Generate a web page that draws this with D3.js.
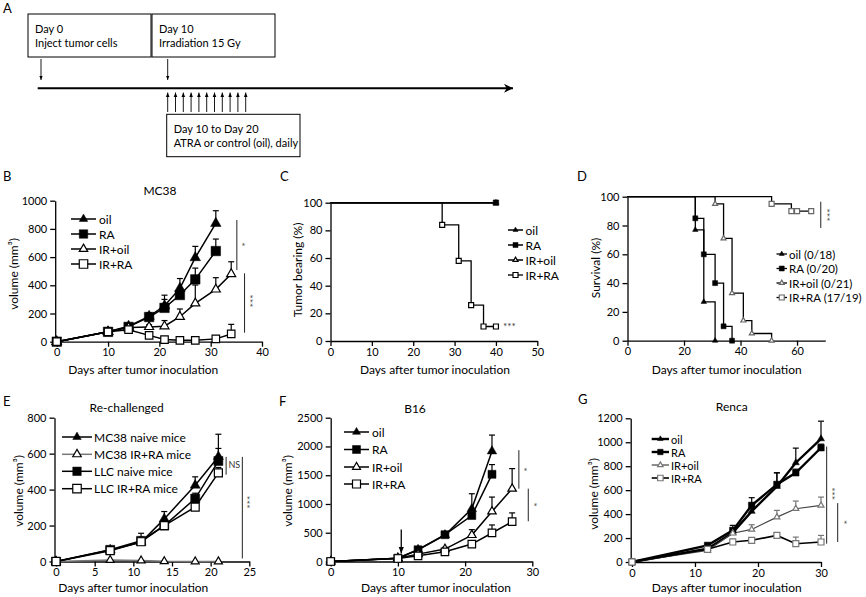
<!DOCTYPE html>
<html lang="en">
<head>
<meta charset="UTF-8">
<title>ATRA + irradiation tumor studies</title>
<script src="https://d3js.org/d3.v7.min.js"></script>
<style>
    body { margin: 0; padding: 0; background: #fff; overflow: hidden; }
    svg text { font-family: Lato, "Open Sans", sans-serif; fill: #000; }
    .axis path, .axis line { stroke: #000; stroke-width: 1.3; }
    .axis text { font-size: 11px; }
</style>
</head>
<body>
<svg id="fig" width="866" height="597"></svg>
<script>
// ---- Panel A: schedule ----
const schedDays = [0, 10];
const dailyDoses = [10, 11, 12, 13, 14, 15, 16, 17, 18, 19, 20];

// ---- Panel B: MC38 tumor volume (mm3) ----
const daysB = [0, 10, 14, 18, 21, 24, 27, 31];
const daysB_IR = [0, 10, 14, 18, 21, 24, 27, 31, 34];
const oilB = [0, 70, 110, 180, 255, 378, 596, 839];
const oilB_err = [0, 8, 15, 25, 75, 70, 80, 90];
const raB = [0, 70, 105, 175, 240, 331, 442, 643];
const raB_err = [0, 8, 15, 20, 60, 50, 80, 85];
const irOilB = [0, 70, 100, 105, 110, 177, 272, 371, 480];
const irOilB_err = [0, 8, 12, 15, 40, 55, 130, 83, 87];
const irRaB = [0, 70, 85, 45, 15, 10, 10, 20, 55];
const irRaB_err = [0, 8, 10, 10, 8, 5, 5, 15, 68];

// ---- Panel C: tumor bearing (%) ----
const daysC_ctrl = [0, 40];
const ctrlC = [100, 100];
const daysC_IRRA = [0, 27, 31, 34, 37, 40];
const irRaC = [100, 84, 58, 26, 10.5, 10.5];

// ---- Panel D: survival (%) ----
const daysD_oil = [0, 24, 27, 31];
const oilD = [100, 77, 27, 0];
const daysD_RA = [0, 24, 27, 31, 34, 37];
const raD = [100, 85, 60, 40, 10, 0];
const daysD_IRoil = [0, 31, 34, 37, 41, 44, 51];
const irOilD = [100, 95, 71, 33, 14, 5, 0];
const daysD_IRRA = [0, 51, 58, 60, 65];
const irRaD = [100, 95, 90, 90, 90];

// ---- Panel E: re-challenge (mm3) ----
const daysE = [0, 7, 11, 14, 18, 21];
const mc38NaiveE = [0, 64, 107, 237, 424, 583];
const mc38NaiveE_err = [0, 10, 50, 41, 47, 125];
const mc38IrRaE = [0, 8, 5, 1, 0, 0];
const llcNaiveE = [0, 65, 115, 200, 350, 559];
const llcNaiveE_err = [0, 10, 20, 20, 30, 70];
const llcIrRaE = [0, 60, 110, 200, 303, 493];
const llcIrRaE_err = [0, 5, 10, 15, 20, 30];

// ---- Panel F: B16 (mm3) ----
const daysF = [0, 10, 13, 17, 21, 24];
const daysF_IR = [0, 10, 13, 17, 21, 24, 27];
const oilF = [0, 58, 204, 460, 915, 1918];
const oilF_err = [0, 10, 30, 60, 263, 280];
const raF = [0, 58, 204, 466, 799, 1516];
const raF_err = [0, 10, 30, 50, 90, 169];
const irOilF = [0, 58, 128, 216, 460, 869, 1265];
const irOilF_err = [0, 10, 20, 30, 94, 251, 350];
const irRaF = [0, 52, 99, 169, 303, 496, 694];
const irRaF_err = [0, 8, 15, 20, 40, 139, 151];

// ---- Panel G: Renca (mm3) ----
const daysG = [0, 12, 16, 19, 23, 26, 30];
const oilG = [0, 111, 245, 423, 631, 829, 1029];
const oilG_err = [0, 10, 30, 60, 114, 122, 147];
const raG = [0, 139, 264, 473, 648, 745, 954];
const raG_err = [0, 10, 42, 64, 97, 30, 30];
const irOilG = [0, 97, 240, 272, 375, 445, 473];
const irOilG_err = [0, 10, 20, 39, 56, 64, 69];
const irRaG = [0, 106, 167, 181, 222, 153, 167];
const irRaG_err = [0, 8, 25, 20, 15, 55, 55];

const svg = d3.select("#fig");

function sym(shape, size) {
    const t = shape === "tri" ? d3.symbolTriangle : d3.symbolSquare;
    const area = shape === "tri" ? Math.sqrt(3) / 4 * size * size : size * size;
    return d3.symbol().type(t).size(area)();
}

function series(name, days, vals, errs, shape, filled, opts = {}) {
    return Object.assign({ name, days, vals, errs, shape, filled,
        size: 8, lw: 1.5, line: "#000", mark: "#000", step: false, showFrom: 0 }, opts);
}

function drawPanel(p) {
    const g = svg.append("g");
    const x = d3.scaleLinear().domain(p.xDomain).range(p.xRange);
    const y = d3.scaleLinear().domain(p.yDomain).range(p.yRange);

    // axes
    const xa = g.append("g").attr("class", "axis")
        .attr("transform", `translate(0,${y(0)})`)
        .call(d3.axisBottom(x).tickValues(p.xTicks).tickFormat(d3.format("d"))
            .tickSize(5).tickSizeOuter(0).tickPadding(2));
    const ya = g.append("g").attr("class", "axis")
        .attr("transform", `translate(${p.xRange[0]},0)`)
        .call(d3.axisLeft(y).tickValues(p.yTicks).tickFormat(d3.format("d"))
            .tickSize(5).tickSizeOuter(0).tickPadding(3));
    [xa, ya].forEach(a => a.attr("font-family", null).attr("font-size", null));

    // title & labels
    if (p.title) g.append("text").attr("x", p.title[1]).attr("y", p.title[2])
        .attr("text-anchor", "middle").style("font-size", "12px").text(p.title[0]);
    g.append("text").attr("x", p.xLab[0]).attr("y", p.xLab[1]).attr("text-anchor", "middle")
        .style("font-size", "12px").text("Days after tumor inoculation");
    g.append("text").attr("transform", `translate(${p.yLab[1]},${p.yLab[2]}) rotate(-90)`)
        .attr("text-anchor", "middle").attr("dominant-baseline", "central")
        .style("font-size", "12px").text(p.yLab[0]);
    g.append("text").attr("x", p.letter[1]).attr("y", p.letter[2])
        .style("font-size", "13px").text(p.letter[0]);

    // lines
    p.series.forEach(s => {
        const pts = s.days.map((d, i) => [d, s.vals[i]]);
        const ln = d3.line().x(d => x(d[0])).y(d => y(d[1]));
        if (s.step) ln.curve(d3.curveStepAfter);
        g.append("path").attr("d", ln(pts)).attr("fill", "none")
            .attr("stroke", s.line).attr("stroke-width", s.lw);
    });
    // error bars (upper only)
    p.series.forEach(s => {
        if (!s.errs) return;
        s.days.forEach((d, i) => {
            if (!s.errs[i]) return;
            const top = y(s.vals[i] + s.errs[i]);
            g.append("line").attr("x1", x(d)).attr("x2", x(d))
                .attr("y1", y(s.vals[i])).attr("y2", top)
                .attr("stroke", s.mark).attr("stroke-width", 1.2);
            g.append("line").attr("x1", x(d) - 3).attr("x2", x(d) + 3)
                .attr("y1", top).attr("y2", top)
                .attr("stroke", s.mark).attr("stroke-width", 1.2);
        });
    });
    // markers
    p.series.forEach(s => {
        s.days.forEach((d, i) => {
            if (i < s.showFrom) return;
            g.append("path").attr("d", sym(s.shape, s.size))
                .attr("transform", `translate(${x(d)},${y(s.vals[i])})`)
                .attr("fill", s.filled ? s.mark : "#fff")
                .attr("stroke", s.mark).attr("stroke-width", s.filled ? 0.5 : 1.2);
        });
    });

    // legend
    const L = p.legend;
    p.series.forEach((s, i) => {
        const yy = L.ys[i];
        g.append("line").attr("x1", L.x0).attr("x2", L.x1).attr("y1", yy).attr("y2", yy)
            .attr("stroke", s.line).attr("stroke-width", s.lw);
        g.append("path").attr("d", sym(s.shape, L.size))
            .attr("transform", `translate(${(L.x0 + L.x1) / 2},${yy})`)
            .attr("fill", s.filled ? s.mark : "#fff")
            .attr("stroke", s.mark).attr("stroke-width", s.filled ? 0.5 : 1.2);
        g.append("text").attr("x", L.tx).attr("y", yy).attr("dominant-baseline", "central")
            .style("font-size", L.fs + "px").text(L.labels[i]);
    });

    // significance brackets, in data coordinates
    (p.sig || []).forEach(a => {
        if (a.y1 !== undefined) g.append("line").attr("x1", x(a.x)).attr("x2", x(a.x))
            .attr("y1", y(a.y1)).attr("y2", y(a.y2)).attr("stroke", "#222").attr("stroke-width", 1);
        const t = g.append("text").style("font-size", (a.fs || 10) + "px").style("fill", "#333")
            .attr("dominant-baseline", "central")
            .text(a.label);
        if (a.rot) t.attr("text-anchor", "middle")
            .attr("transform", `translate(${x(a.tx)},${y(a.ty)}) rotate(90)`);
        else t.attr("x", x(a.tx)).attr("y", y(a.ty));
    });
    return { x, y, g };
}

const grpLabels = ["oil", "RA", "IR+oil", "IR+RA"];

// ---- Panel A ----
(function () {
    const g = svg.append("g");
    g.append("text").attr("x", 3).attr("y", 13).style("font-size", "13px").text("A");
    const t = d3.scaleLinear().domain([0, 10]).range([41, 167.7]);
    const td = d3.scaleLinear().domain([10, 20]).range([167.7, 245.7]);
    const boxes = [
        { x: 28, y: 14, w: 123, h: 43, lines: ["Day 0", "Inject tumor cells"] },
        { x: 152, y: 14, w: 123, h: 43, lines: ["Day 10", "Irradiation 15 Gy"] },
        { x: 166.7, y: 114.3, w: 133.3, h: 42.4, lines: ["Day 10 to Day 20", "ATRA or control (oil), daily"] }
    ];
    boxes.forEach(b => {
        g.append("rect").attr("x", b.x).attr("y", b.y).attr("width", b.w).attr("height", b.h)
            .attr("fill", "#fff").attr("stroke", "#000").attr("stroke-width", 1);
        b.lines.forEach((l, i) => g.append("text").attr("x", b.x + 7).attr("y", b.y + 19 + i * 13.5)
            .style("font-size", "11px").text(l));
    });
    const defs = svg.append("defs");
    defs.append("marker").attr("id", "ah").attr("viewBox", "0 0 10 10").attr("refX", 10).attr("refY", 5)
        .attr("markerWidth", 5).attr("markerHeight", 5).attr("orient", "auto-start-reverse")
        .append("path").attr("d", "M0,1L10,5L0,9z").attr("fill", "#000");
    defs.append("marker").attr("id", "big").attr("viewBox", "0 0 10 10").attr("refX", 10).attr("refY", 5)
        .attr("markerWidth", 4.5).attr("markerHeight", 4.5).attr("orient", "auto")
        .append("path").attr("d", "M0,0L10,5L0,10L3,5z").attr("fill", "#000");
    schedDays.forEach(d => g.append("line").attr("x1", t(d)).attr("x2", t(d)).attr("y1", 59).attr("y2", 80)
        .attr("stroke", "#000").attr("stroke-width", 0.9).attr("marker-end", "url(#ah)"));
    g.append("line").attr("x1", 37.7).attr("x2", 513).attr("y1", 88.3).attr("y2", 88.3)
        .attr("stroke", "#000").attr("stroke-width", 2).attr("marker-end", "url(#big)");
    dailyDoses.forEach(d => g.append("line").attr("x1", td(d)).attr("x2", td(d)).attr("y1", 112).attr("y2", 92.5)
        .attr("stroke", "#000").attr("stroke-width", 0.9).attr("marker-end", "url(#ah)"));
})();

// ---- Panel B ----
drawPanel({
    xDomain: [-0.3, 40], xRange: [55.2, 262], yDomain: [0, 1000], yRange: [341.7, 200.7],
    xTicks: [0, 10, 20, 30, 40], yTicks: [0, 200, 400, 600, 800, 1000],
    title: ["MC38", 160, 195], xLab: [143.3, 374], yLab: ["volume (mm³)", 13, 274], letter: ["B", 3, 181],
    series: [
        series("oil", daysB, oilB, oilB_err, "tri", true, { size: 10.5 }),
        series("RA", daysB, raB, raB_err, "sq", true, { size: 9.5 }),
        series("IR+oil", daysB_IR, irOilB, irOilB_err, "tri", false, { size: 9 }),
        series("IR+RA", daysB_IR, irRaB, irRaB_err, "sq", false, { size: 7.5 })
    ],
    legend: { x0: 71, x1: 96, tx: 99, ys: [219, 234, 249, 264], size: 8.5, fs: 12, labels: grpLabels },
    sig: [
        { x: 35.1, y1: 863, y2: 508, label: "*", tx: 36.1, ty: 690, rot: true },
        { x: 36.6, y1: 485, y2: 64, label: "***", tx: 37.6, ty: 290, rot: true }
    ]
});

// ---- Panel C ----
drawPanel({
    xDomain: [0, 50], xRange: [330.5, 537.3], yDomain: [0, 100], yRange: [341, 202.7],
    xTicks: [0, 10, 20, 30, 40, 50], yTicks: [0, 20, 40, 60, 80, 100],
    xLab: [435, 374], yLab: ["Tumor bearing (%)", 297, 270], letter: ["C", 280, 181],
    series: [
        series("oil", daysC_ctrl, ctrlC, null, "tri", true, { size: 6, showFrom: 1 }),
        series("RA", daysC_ctrl, ctrlC, null, "sq", true, { size: 5.5, showFrom: 1 }),
        series("IR+oil", daysC_ctrl, ctrlC, null, "tri", false, { size: 5, showFrom: 2 }),
        series("IR+RA", daysC_IRRA, irRaC, null, "sq", false, { size: 5, step: true, showFrom: 1, lw: 1.3 })
    ],
    legend: { x0: 508, x1: 523, tx: 525.5, ys: [230, 245, 260, 275], size: 5, fs: 12, labels: grpLabels },
    sig: [{ label: "***", tx: 41.7, ty: 10.5, fs: 10 }]
});

// ---- Panel D ----
drawPanel({
    xDomain: [0, 70], xRange: [627.5, 825.3], yDomain: [0, 100], yRange: [340.7, 196.7],
    xTicks: [0, 20, 40, 60], yTicks: [0, 20, 40, 60, 80, 100],
    xLab: [726.7, 374], yLab: ["Survival (%)", 595, 268], letter: ["D", 577, 181],
    series: [
        series("oil", daysD_oil, oilD, null, "tri", true, { size: 5.5, step: true, showFrom: 1, lw: 1.3 }),
        series("RA", daysD_RA, raD, null, "sq", true, { size: 5, step: true, showFrom: 1, lw: 1.3 }),
        series("IR+oil", daysD_IRoil, irOilD, null, "tri", false, { size: 5, step: true, showFrom: 1, lw: 1.3, mark: "#666" }),
        series("IR+RA", daysD_IRRA, irRaD, null, "sq", false, { size: 5, step: true, showFrom: 1, lw: 1.3, mark: "#666" })
    ],
    legend: { x0: 776.5, x1: 787, tx: 789, ys: [254, 268.5, 283, 297.5], size: 5, fs: 11.5,
        labels: ["oil (0/18)", "RA (0/20)", "IR+oil (0/21)", "IR+RA (17/19)"] },
    sig: [{ x: 68.4, y1: 96.5, y2: 78.3, label: "***", tx: 70.5, ty: 87.4, rot: true }]
});

// ---- Panel E ----
drawPanel({
    xDomain: [-0.2, 25], xRange: [54.5, 249.3], yDomain: [0, 800], yRange: [561.5, 417.7],
    xTicks: [0, 5, 10, 15, 20, 25], yTicks: [0, 200, 400, 600, 800],
    title: ["Re-challenged", 126.7, 412], xLab: [133.3, 592], yLab: ["volume (mm³)", 18, 491], letter: ["E", 3, 406],
    series: [
        series("MC38 naive", daysE, mc38NaiveE, mc38NaiveE_err, "tri", true, { size: 10 }),
        series("MC38 IR+RA", daysE, mc38IrRaE, null, "tri", false, { size: 8, line: "#777" }),
        series("LLC naive", daysE, llcNaiveE, llcNaiveE_err, "sq", true, { size: 9 }),
        series("LLC IR+RA", daysE, llcIrRaE, llcIrRaE_err, "sq", false, { size: 8 })
    ],
    legend: { x0: 62, x1: 92, tx: 94, ys: [437, 454.3, 471.3, 488.7], size: 8.5, fs: 12,
        labels: ["MC38 naive mice", "MC38 IR+RA mice", "LLC naive mice", "LLC IR+RA mice"] },
    sig: [
        { x: 22, y1: 582, y2: 483, label: "NS", tx: 22.3, ty: 540, fs: 9 },
        { x: 24.1, y1: 582, y2: 17, label: "***", tx: 24.7, ty: 330, rot: true }
    ]
});

// ---- Panel F ----
const pF = drawPanel({
    xDomain: [0, 30], xRange: [330.7, 532.3], yDomain: [0, 2500], yRange: [561.5, 417.7],
    xTicks: [0, 10, 20, 30], yTicks: [0, 500, 1000, 1500, 2000, 2500],
    title: ["B16", 415, 413], xLab: [436, 592], yLab: ["volume (mm³)", 287, 491], letter: ["F", 279, 406],
    series: [
        series("oil", daysF, oilF, oilF_err, "tri", true, { size: 9.5 }),
        series("RA", daysF, raF, raF_err, "sq", true, { size: 8 }),
        series("IR+oil", daysF_IR, irOilF, irOilF_err, "tri", false, { size: 8.5 }),
        series("IR+RA", daysF_IR, irRaF, irRaF_err, "sq", false, { size: 7.5 })
    ],
    legend: { x0: 344, x1: 369, tx: 372, ys: [432, 449.5, 467, 484], size: 8, fs: 12, labels: grpLabels },
    sig: [
        { x: 28.0, y1: 1935, y2: 1266, label: "*", tx: 28.8, ty: 1600, rot: true },
        { x: 29.4, y1: 1266, y2: 699, label: "*", tx: 30.2, ty: 990, rot: true }
    ]
});
// irradiation arrow at day 10
pF.g.append("line").attr("x1", pF.x(10.5)).attr("x2", pF.x(10.5)).attr("y1", pF.y(555)).attr("y2", pF.y(140))
    .attr("stroke", "#000").attr("stroke-width", 1.3).attr("marker-end", "url(#ah)");

// ---- Panel G ----
drawPanel({
    xDomain: [-0.2, 30], xRange: [630.7, 821], yDomain: [0, 1200], yRange: [562, 418.3],
    xTicks: [0, 10, 20, 30], yTicks: [0, 200, 400, 600, 800, 1000, 1200],
    title: ["Renca", 731.7, 411], xLab: [726.7, 592], yLab: ["volume (mm³)", 593, 494], letter: ["G", 578, 404],
    series: [
        series("oil", daysG, oilG, oilG_err, "tri", true, { size: 7, lw: 2.4 }),
        series("RA", daysG, raG, raG_err, "sq", true, { size: 6.5, lw: 2.4 }),
        series("IR+oil", daysG, irOilG, irOilG_err, "tri", false, { size: 6, lw: 1.2, line: "#444", mark: "#777" }),
        series("IR+RA", daysG, irRaG, irRaG_err, "sq", false, { size: 6, lw: 1.6, mark: "#777" })
    ],
    legend: { x0: 651.7, x1: 669, tx: 671, ys: [439, 452, 465, 478], size: 5.5, fs: 11, labels: grpLabels },
    sig: [
        { x: 30.9, y1: 964, y2: 153, label: "***", tx: 31.75, ty: 572, rot: true },
        { x: 32.65, y1: 492, y2: 167, label: "*", tx: 33.6, ty: 333, rot: true }
    ]
});
</script>
</body>
</html>
